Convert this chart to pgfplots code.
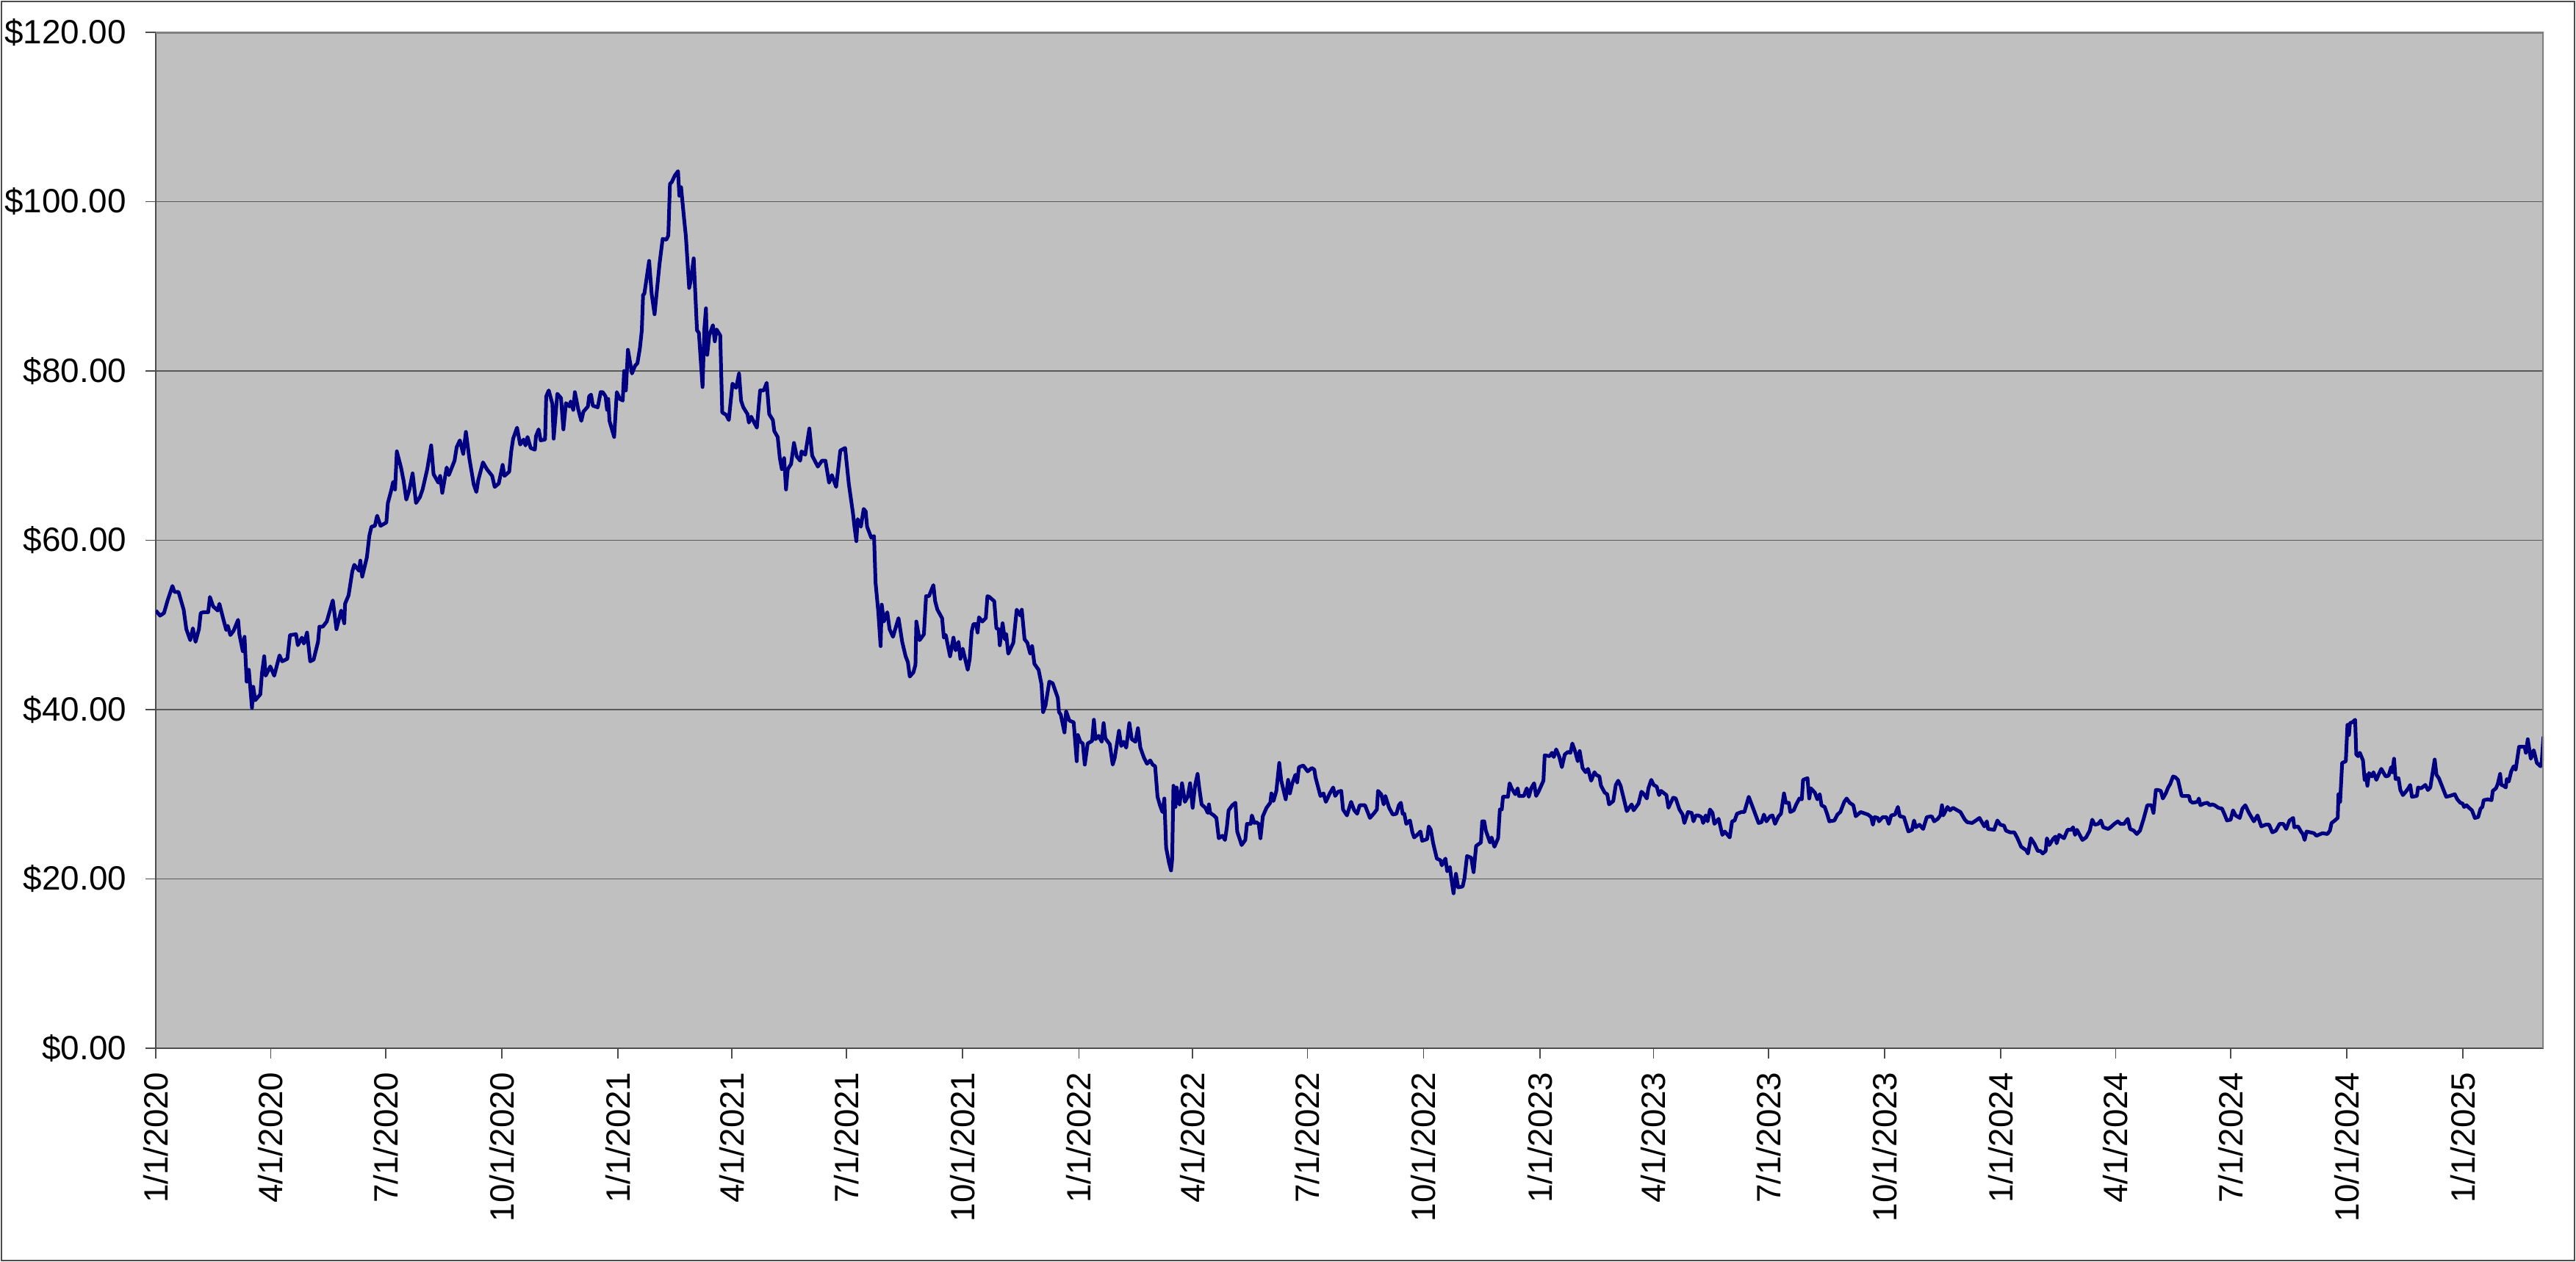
\documentclass[border=0pt]{standalone}
\usepackage{fontspec}
\setmainfont{Liberation Sans}
\usepackage{pgfplots}
\pgfplotsset{compat=1.18}
\definecolor{plotbg}{RGB}{192,192,192}
\definecolor{navyline}{RGB}{0,0,128}
\definecolor{framegray}{RGB}{128,128,128}
\begin{document}
\begin{tikzpicture}
\useasboundingbox (0,0) rectangle (841.44pt,412.32pt);
\draw[black!70, line width=0.5pt] (0.4pt,0.4pt) rectangle (841.04pt,411.92pt);
\begin{axis}[
  at={(50.88pt,69.84pt)}, anchor=south west,
  scale only axis, width=780pt, height=331.92pt,
  xmin=0, xmax=1891, ymin=0, ymax=120,
  axis background/.style={fill=plotbg},
  axis x line*=bottom, axis y line*=left,
  axis line style={-, black!70, line width=0.6pt},
  ytick={0,20,40,60,80,100,120},
  yticklabels={\$0.00,\$20.00,\$40.00,\$60.00,\$80.00,\$100.00,\$120.00},
  ymajorgrids, major grid style={black!65, line width=0.35pt},
  xtick={0,91,182,274,366,456,547,639,731,821,912,1004,1096,1186,1277,1369,1461,1552,1643,1735,1827},
  xticklabels={1/1/2020,4/1/2020,7/1/2020,10/1/2020,1/1/2021,4/1/2021,7/1/2021,10/1/2021,1/1/2022,4/1/2022,7/1/2022,10/1/2022,1/1/2023,4/1/2023,7/1/2023,10/1/2023,1/1/2024,4/1/2024,7/1/2024,10/1/2024,1/1/2025},
  tick align=outside, major tick length=3.4pt,
  tick style={black!70, line width=0.4pt},
  xticklabel style={rotate=90, anchor=east, inner sep=0pt},
  yticklabel style={anchor=east, inner sep=0pt},
  xticklabel shift=4.2pt, yticklabel shift=6.0pt,
  ticklabel style={font=\fontsize{11}{13}\selectfont},
]
\addplot[navyline, line width=1.2pt, line join=round] coordinates {
(0,51.7)(3.4,51.1)(6.5,51.4)(9.6,53.0)(13.2,54.6)(14.8,53.9)(18.0,53.9)(22.1,51.8)(24.2,49.5)(27.3,48.2)
(29.4,49.6)(31.5,48.0)(34.2,49.5)(35.6,51.4)(37.7,51.5)(41.5,51.5)(42.9,53.3)(45.4,52.2)(49.1,51.7)(50.4,52.5)
(53.3,50.8)(55.8,49.4)(57.0,49.9)(59.1,48.8)(61.6,49.3)(65.2,50.6)(66.2,48.9)(68.9,46.9)(70.3,48.6)(72.0,43.3)
(73.7,44.7)(76.2,40.2)(77.2,42.7)(78.7,41.1)(82.8,41.8)(84.1,44.3)(85.9,46.3)(87.0,44.0)(90.7,45.1)(93.8,44.0)
(98.0,46.4)(100.1,45.7)(104.2,46.0)(106.3,48.8)(111.1,48.9)(112.5,47.6)(115.7,48.5)(117.3,47.8)(119.8,49.1)(122.3,45.7)
(125.0,45.9)(128.5,48.0)(129.6,49.8)(132.3,49.8)(135.4,50.4)(140.2,52.9)(143.1,49.5)(146.8,51.7)(149.3,50.2)(149.9,52.5)
(152.7,53.5)(155.6,56.3)(157.2,57.1)(161.0,56.4)(162.0,57.6)(163.5,55.7)(167.2,58.0)(169.1,60.5)(170.8,61.6)(173.5,61.7)
(175.3,62.9)(178.0,61.7)(182.6,62.1)(183.8,64.4)(186.3,65.8)(188.0,66.9)(189.5,66.0)(190.9,70.5)(194.2,68.6)(196.3,67.0)
(198.4,64.8)(200.9,66.0)(203.4,67.9)(206.1,64.4)(209.2,65.1)(211.3,66.0)(215.0,68.4)(218.1,71.2)(220.0,67.8)(223.8,66.8)
(225.2,67.6)(226.9,65.6)(230.4,68.6)(232.1,67.7)(236.6,69.4)(238.3,71.0)(240.8,71.8)(243.5,70.2)(245.6,72.8)(248.3,69.7)
(251.8,66.6)(253.9,65.7)(255.4,67.1)(259.1,69.2)(262.2,68.4)(266.4,67.6)(268.4,66.3)(271.6,66.7)(274.7,68.9)(276.1,67.6)
(279.9,68.1)(281.5,70.5)(283.0,72.0)(286.1,73.3)(288.6,71.3)(291.3,71.9)(292.8,71.2)(294.4,72.2)(296.9,70.9)(300.2,70.7)
(301.1,72.3)(303.2,73.1)(304.8,71.8)(308.3,71.9)(309.2,77.0)(311.2,77.7)(314.1,76.1)(315.1,72.0)(318.0,77.3)(320.9,76.8)
(322.8,73.1)(324.8,76.2)(327.7,75.8)(328.6,76.4)(330.6,75.4)(331.9,77.5)(334.5,75.5)(337.0,74.1)(338.7,75.2)(342.2,75.8)
(343.2,77.0)(344.7,77.2)(346.1,75.9)(350.0,75.7)(352.3,77.5)(353.9,77.5)(356.2,77.0)(357.4,75.4)(358.3,76.7)(359.3,74.1)
(363.0,72.2)(365.1,77.5)(367.5,76.7)(369.8,76.5)(370.9,80.0)(372.3,77.7)(373.9,82.5)(377.1,79.7)(379.5,80.6)(381.4,80.9)
(383.4,82.7)(384.9,84.8)(385.9,89.0)(386.9,89.1)(390.7,93.0)(392.7,89.1)(395.0,86.7)(398.9,92.6)(401.4,95.6)(404.3,95.5)
(405.9,96.0)(407.2,102.1)(408.6,102.3)(411.1,103.1)(413.6,103.6)(414.6,100.7)(416.0,101.7)(418.3,98.1)(419.8,95.9)(422.4,89.8)
(423.7,90.7)(426.0,93.3)(428.6,84.8)(430.1,84.5)(433.0,78.1)(434.4,84.9)(435.7,87.4)(436.7,81.9)(438.3,84.2)(441.2,85.4)
(442.7,83.5)(444.1,84.9)(447.0,84.2)(448.6,75.1)(451.8,74.8)(453.8,74.2)(456.7,78.5)(459.6,78.0)(461.9,79.7)(463.5,76.5)
(465.3,75.7)(468.6,74.9)(469.7,73.9)(471.5,74.6)(476.0,73.3)(478.6,77.7)(481.5,77.7)(483.8,78.6)(485.8,74.9)(488.7,74.2)
(489.8,72.9)(492.5,72.2)(494.2,69.7)(495.8,68.4)(497.6,69.7)(499.1,66.0)(500.5,68.4)(503.1,69.0)(505.4,71.5)(507.6,69.9)
(510.3,69.4)(511.4,70.5)(514.3,70.1)(517.6,73.2)(519.8,70.0)(524.3,68.7)(527.6,69.4)(530.3,69.4)(533.2,66.8)(535.4,67.7)
(538.8,66.3)(542.1,70.6)(545.9,70.9)(548.8,66.7)(552.1,63.2)(553.3,61.6)(554.8,59.9)(555.9,62.5)(558.4,61.6)(560.6,63.7)
(562.2,63.4)(563.3,61.6)(566.6,60.3)(568.8,60.5)(570.0,55.0)(572.2,51.5)(574.0,47.5)(574.9,52.4)(576.6,50.4)(579.3,51.5)
(581.1,49.5)(583.8,48.6)(588.2,50.8)(591.1,48.0)(593.8,46.3)(595.6,45.6)(597.1,43.9)(600.0,44.4)(601.6,45.3)(602.3,50.4)
(604.9,48.2)(608.3,48.9)(610.0,53.4)(612.3,53.4)(615.8,54.7)(617.2,52.8)(619.0,51.8)(622.7,50.8)(624.1,48.5)(625.6,48.8)
(629.0,46.3)(631.7,48.5)(633.4,47.0)(635.7,48.0)(637.2,46.0)(639.0,47.2)(643.0,44.7)(644.6,46.0)(646.1,49.2)(647.5,50.1)
(649.7,50.1)(650.8,49.1)(651.9,50.9)(654.6,50.4)(657.3,50.8)(658.6,53.4)(660.2,53.3)(664.0,52.8)(665.7,49.6)(667.5,49.5)
(668.4,47.6)(670.6,50.2)(672.4,48.3)(673.5,48.9)(675.1,46.6)(679.1,47.9)(681.8,51.8)(684.7,51.1)(685.8,51.8)(688.0,48.3)
(690.2,47.9)(692.5,46.6)(694.0,47.5)(695.8,45.4)(699.1,44.7)(701.4,43.0)(702.7,39.7)(704.6,40.5)(707.6,43.3)(710.3,43.1)
(714.3,41.4)(715.3,39.7)(716.7,39.4)(719.6,37.3)(720.9,39.8)(723.5,38.7)(726.9,38.5)(729.3,33.9)(730.2,37.0)(732.2,36.2)
(734.1,36.0)(735.7,33.5)(738.0,36.0)(741.5,36.3)(742.9,38.8)(744.2,36.5)(746.7,36.9)(749.1,36.2)(750.6,38.4)(752.0,36.6)
(755.5,35.9)(757.8,33.5)(759.4,34.3)(762.8,37.5)(764.6,35.7)(766.5,36.2)(768.5,35.5)(771.0,38.4)(772.9,36.5)(775.8,36.2)
(777.8,37.8)(779.7,35.5)(782.6,34.3)(785.0,33.6)(787.5,34.0)(789.4,33.5)(791.4,33.3)(793.3,29.7)(795.2,28.7)(797.2,27.9)
(798.7,29.5)(800.1,23.7)(802.4,21.9)(804.0,21.0)(804.9,22.3)(805.9,31.0)(807.5,28.5)(808.4,30.8)(810.8,28.8)(812.7,31.3)
(815.0,29.1)(817.2,29.7)(819.1,31.3)(821.1,28.4)(823.0,31.0)(825.0,32.4)(826.3,30.8)(828.2,28.8)(831.1,28.4)(833.1,27.8)
(834.0,28.8)(835.0,27.8)(837.9,27.5)(839.9,27.2)(841.8,24.8)(844.7,25.1)(846.7,24.6)(848.2,26.1)(849.6,28.1)(852.5,28.7)
(855.0,29.0)(856.4,25.6)(859.9,24.0)(862.8,24.6)(864.1,26.5)(867.1,26.5)(868.0,27.5)(870.0,26.6)(871.5,26.7)(873.4,26.5)
(874.8,24.8)(876.7,27.4)(879.6,28.4)(882.6,29.0)(883.5,30.1)(885.1,29.2)(887.4,30.4)(889.7,33.7)(891.3,31.6)(894.8,29.4)
(896.7,31.7)(898.1,30.1)(900.0,31.3)(902.5,32.3)(903.9,31.4)(905.3,33.2)(908.7,33.4)(912.2,32.7)(915.5,33.1)(917.5,32.9)
(918.4,32.0)(922.3,29.8)(924.7,30.1)(926.6,29.1)(929.7,30.1)(932.4,30.8)(934.0,29.8)(936.3,30.3)(938.8,30.4)(940.2,28.2)
(943.3,27.5)(946.6,29.1)(949.1,28.1)(951.4,27.7)(953.4,28.7)(957.6,28.7)(961.5,27.2)(965.0,27.8)(967.0,28.2)(967.9,30.4)
(970.4,30.0)(972.4,28.8)(973.7,29.8)(976.7,28.4)(979.6,27.6)(982.5,27.7)(984.4,28.7)(986.0,29.0)(987.4,27.7)(988.7,27.7)
(990.3,26.5)(993.2,26.9)(995.1,25.5)(996.5,24.9)(999.0,25.2)(1001.5,25.6)(1002.9,24.5)(1006.8,24.7)(1008.1,26.2)(1009.7,25.8)
(1011.6,24.2)(1014.5,22.4)(1017.4,22.2)(1018.4,21.6)(1021.3,22.4)(1022.7,20.9)(1024.8,21.4)(1026.2,19.8)(1027.7,18.3)(1029.6,20.6)
(1031.4,19.0)(1034.9,19.1)(1036.4,20.1)(1038.4,22.7)(1041.7,22.5)(1043.6,20.8)(1045.6,23.9)(1049.4,24.3)(1050.4,26.8)(1052.0,26.8)
(1053.3,25.7)(1056.6,24.3)(1057.8,24.9)(1060.1,23.8)(1063.0,24.8)(1064.4,28.2)(1065.9,28.2)(1066.9,29.7)(1070.8,29.7)(1072.1,31.3)
(1073.7,30.7)(1076.6,30.0)(1078.5,30.7)(1079.5,29.8)(1083.4,29.8)(1085.7,30.7)(1087.3,29.7)(1089.2,30.7)(1091.5,31.3)(1093.1,29.8)
(1095.0,30.3)(1098.9,31.6)(1099.9,34.6)(1103.8,34.5)(1105.7,34.9)(1107.1,34.4)(1109.0,35.3)(1111.5,34.4)(1113.5,33.2)(1115.8,34.7)
(1118.3,35.0)(1120.3,34.9)(1121.8,36.0)(1124.1,35.0)(1126.1,33.9)(1127.6,35.1)(1129.9,33.1)(1132.3,32.6)(1134.2,33.0)(1136.7,31.6)
(1139.3,32.6)(1140.6,32.3)(1143.2,32.1)(1144.5,31.0)(1147.4,30.2)(1149.4,30.0)(1150.9,28.8)(1154.2,29.2)(1156.2,31.1)(1158.1,31.6)
(1160.0,31.0)(1162.0,29.8)(1164.9,28.0)(1166.8,28.4)(1168.8,28.8)(1170.3,28.1)(1174.2,28.9)(1176.5,30.3)(1178.5,30.0)(1180.8,29.5)
(1182.0,30.7)(1184.3,31.7)(1186.2,31.1)(1188.6,30.9)(1190.5,29.9)(1192.0,30.4)(1196.3,29.9)(1197.9,28.4)(1199.4,28.9)(1201.7,29.6)
(1203.7,29.5)(1206.6,28.2)(1209.1,27.6)(1210.5,26.6)(1213.4,27.9)(1216.3,27.8)(1217.7,26.8)(1219.6,27.5)(1221.5,27.5)(1224.1,27.3)
(1225.4,26.6)(1227.4,27.5)(1228.9,26.8)(1230.8,28.2)(1232.8,27.8)(1234.3,26.5)(1237.6,27.1)(1240.6,25.2)(1242.5,25.6)(1246.4,24.9)
(1248.3,26.8)(1250.3,26.9)(1252.2,27.7)(1255.7,27.9)(1258.0,27.9)(1261.5,29.7)(1264.8,28.4)(1267.3,27.4)(1269.3,26.6)(1271.6,26.7)
(1273.5,27.6)(1275.5,26.8)(1278.4,27.4)(1280.3,27.5)(1282.3,26.5)(1285.1,27.4)(1287.0,27.7)(1289.4,30.1)(1290.9,29.0)(1293.2,29.0)
(1294.4,27.9)(1297.1,28.1)(1299.1,28.8)(1301.6,29.5)(1303.5,29.4)(1304.5,31.7)(1308.0,31.9)(1309.4,29.5)(1310.7,30.7)(1313.8,30.2)
(1315.8,29.4)(1317.7,30.0)(1319.1,28.7)(1321.6,28.5)(1323.5,27.7)(1325.3,26.8)(1329.3,26.9)(1331.7,27.6)(1334.0,27.9)(1337.1,29.1)
(1339.0,29.5)(1341.4,29.0)(1344.3,28.7)(1346.2,27.4)(1350.1,27.9)(1355.9,27.6)(1358.4,27.3)(1359.8,26.4)(1361.2,27.3)(1363.7,27.2)
(1364.6,26.8)(1367.6,27.3)(1370.5,27.3)(1372.4,26.5)(1374.3,27.5)(1377.3,27.6)(1379.6,28.5)(1381.1,27.4)(1384.4,27.3)(1387.9,25.6)
(1390.8,25.8)(1392.4,26.9)(1393.8,26.1)(1396.7,26.4)(1399.6,25.9)(1402.5,27.3)(1406.4,27.4)(1408.3,26.8)(1411.2,27.1)(1413.2,27.5)
(1414.5,28.7)(1415.5,27.5)(1418.9,28.5)(1420.9,28.1)(1423.2,28.4)(1426.7,28.1)(1429.1,27.9)(1432.6,27.0)(1434.5,26.7)(1438.4,26.6)
(1441.3,26.9)(1444.2,27.2)(1446.5,26.6)(1448.1,26.2)(1450.0,26.8)(1451.0,25.9)(1455.8,25.8)(1458.4,26.9)(1460.7,26.4)(1463.6,26.3)
(1465.2,25.7)(1468.5,25.5)(1471.8,25.5)(1474.3,24.8)(1477.2,23.8)(1479.1,23.6)(1481.1,23.4)(1482.6,23.0)(1484.9,24.8)(1487.9,24.1)
(1490.4,23.3)(1492.3,23.3)(1494.3,23.0)(1496.6,23.3)(1497.6,24.8)(1499.5,24.0)(1502.4,24.7)(1504.4,25.0)(1505.3,24.2)(1507.3,25.2)
(1511.1,24.8)(1514.0,25.8)(1517.0,25.8)(1518.3,26.1)(1519.9,25.2)(1521.4,25.8)(1525.7,24.6)(1528.6,24.9)(1531.5,25.7)(1533.5,27.0)
(1535.4,26.4)(1538.3,26.5)(1540.3,26.9)(1542.2,26.1)(1546.1,25.9)(1548.0,26.1)(1551.0,26.5)(1553.8,26.8)(1555.8,26.5)(1558.7,26.5)
(1561.6,27.1)(1563.5,25.9)(1566.4,25.7)(1568.8,25.3)(1571.3,25.7)(1574.2,27.1)(1577.1,28.7)(1578.5,28.7)(1580.4,28.7)(1582.0,27.8)
(1583.9,30.5)(1585.8,30.5)(1587.8,30.4)(1589.4,29.5)(1591.7,30.1)(1593.6,30.8)(1595.2,31.2)(1597.5,32.1)(1599.4,32.0)(1601.4,31.7)
(1604.3,29.8)(1607.2,29.8)(1610.1,29.8)(1611.1,29.2)(1613.0,29.0)(1616.9,29.1)(1617.9,29.5)(1619.2,28.7)(1621.8,28.9)(1624.7,29.0)
(1626.6,28.7)(1628.5,28.8)(1630.5,28.7)(1633.4,28.4)(1636.3,28.3)(1638.6,27.5)(1640.2,26.9)(1643.1,27.0)(1645.0,28.1)(1647.0,27.5)
(1650.3,27.2)(1652.4,28.3)(1654.7,28.7)(1657.6,27.8)(1661.5,26.8)(1664.4,27.5)(1667.4,26.2)(1670.8,26.4)(1673.6,26.4)(1676.1,25.5)
(1678.9,25.7)(1681.9,26.5)(1684.8,26.5)(1687.1,25.9)(1689.7,26.9)(1692.6,27.2)(1693.5,26.1)(1696.5,26.2)(1698.8,25.6)(1700.3,25.3)
(1701.7,24.6)(1703.2,25.6)(1706.2,25.5)(1709.1,25.4)(1711.0,25.1)(1715.9,25.4)(1719.7,25.3)(1721.7,25.7)(1723.0,26.6)(1725.6,26.9)
(1727.9,27.2)(1728.5,30.0)(1729.8,29.1)(1731.4,33.7)(1734.3,33.9)(1735.6,38.2)(1736.8,37.0)(1737.6,38.4)(1739.5,38.5)(1741.7,38.8)
(1742.6,34.7)(1744.0,34.5)(1745.4,34.9)(1747.9,34.0)(1749.2,31.7)(1750.2,32.3)(1751.4,31.0)(1752.7,32.5)(1755.0,32.1)(1756.2,32.6)
(1758.5,31.7)(1760.5,32.4)(1762.4,33.0)(1765.9,32.1)(1768.2,32.2)(1770.2,33.2)(1771.1,32.6)(1772.5,34.2)(1773.7,31.8)(1776.0,31.9)
(1777.5,30.5)(1779.5,29.9)(1781.8,30.3)(1783.8,30.7)(1785.3,31.1)(1786.7,29.7)(1790.6,29.8)(1791.5,30.8)(1793.9,30.7)(1797.3,31.1)
(1799.3,30.5)(1801.2,30.8)(1804.7,34.1)(1806.1,32.3)(1808.0,31.9)(1810.9,30.8)(1813.8,29.7)(1816.7,29.8)(1820.6,30.0)(1822.6,29.4)
(1824.9,29.0)(1826.8,28.9)(1828.0,28.5)(1829.9,28.7)(1831.9,28.4)(1834.2,28.1)(1836.5,27.2)(1839.1,27.3)(1841.0,28.3)(1842.4,28.5)
(1843.5,29.3)(1846.8,29.4)(1849.7,29.3)(1850.7,30.4)(1853.2,30.7)(1854.6,31.2)(1856.5,32.4)(1857.5,31.1)(1859.4,31.0)(1861.0,30.8)
(1861.8,31.8)(1863.3,31.5)(1865.3,32.7)(1867.2,33.3)(1868.8,32.9)(1870.1,34.2)(1871.5,35.6)(1874.0,35.6)(1875.9,35.6)(1876.9,34.9)
(1878.4,36.5)(1880.8,34.2)(1883.1,35.2)(1885.6,33.7)(1888.5,33.3)(1889.5,33.9)(1890.8,36.8)
};
\draw[framegray, line width=0.8pt] (rel axis cs:0,1) -- (rel axis cs:1,1) -- (rel axis cs:1,0);
\end{axis}
\end{tikzpicture}
\end{document}
